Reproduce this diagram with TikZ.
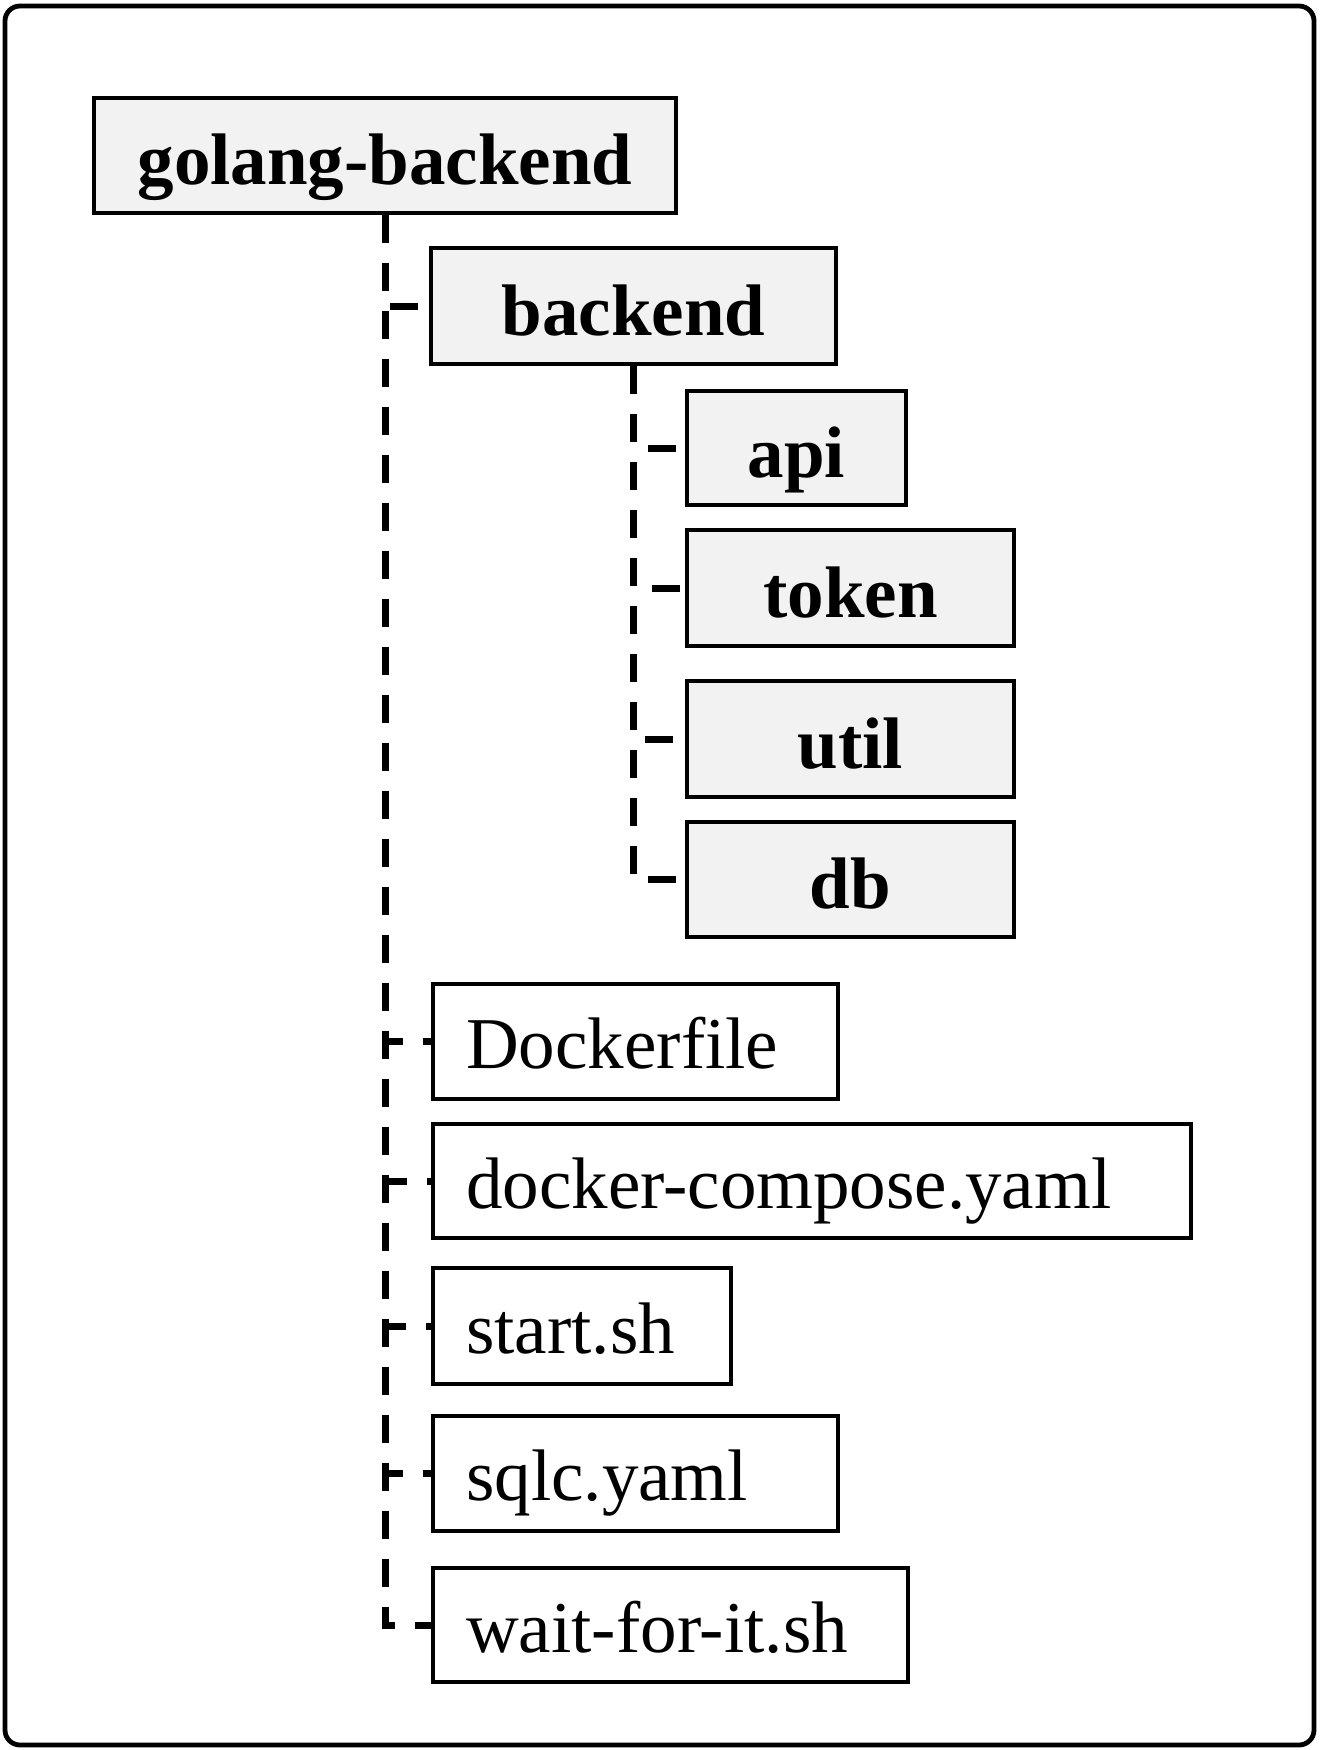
\documentclass[tikz,border=0pt]{standalone}
\usepackage{fontspec}
\setmainfont{Liberation Serif}
\definecolor{boxfill}{HTML}{F2F2F2}
\begin{document}
\begin{tikzpicture}[x=0.5pt,y=-0.5pt,
  dirbox/.style={draw=black, line width=2.2pt, fill=boxfill, inner sep=0pt,
    text height=29.2pt, text depth=0pt,
    font=\fontsize{36.5}{40}\selectfont\bfseries},
  filebox/.style={draw=black, line width=2.2pt, fill=white, inner xsep=16.5pt, inner ysep=0pt,
    align=left, anchor=north west, minimum height=57.5pt,
    text height=27pt, text depth=0pt,
    font=\fontsize{36.5}{40}\selectfont},
  conn/.style={draw=black, line width=3.5pt, dash pattern=on 14pt off 10pt},
  frame/.style={draw=black, line width=2.4pt, rounded corners=7.5pt}]
\useasboundingbox (0,0) rectangle (1320,1750);
\draw[frame] (5,6) rectangle (1314,1745);
% directories
\node[dirbox, minimum width=291pt, minimum height=57.5pt] (golang) at (385,155.5) {golang-backend};
\node[dirbox, minimum width=202.5pt, minimum height=58pt] (backend) at (633.5,306) {backend};
\node[dirbox, minimum width=109.5pt, minimum height=57pt] (api) at (796.5,448) {api};
\node[dirbox, minimum width=163.5pt, minimum height=58pt] (token) at (850.5,588) {token};
\node[dirbox, minimum width=163.5pt, minimum height=58pt] (util) at (850.5,739) {util};
\node[dirbox, minimum width=163.5pt, minimum height=57.5pt] (db) at (850.5,879.5) {db};
% files
\node[filebox, text width=169.5pt] (dockerfile) at (431,982) {Dockerfile};
\node[filebox, text width=346pt, minimum height=57pt] (compose) at (431,1122) {docker-compose.yaml};
\node[filebox, text width=116pt, minimum height=58pt] (start) at (431,1266) {start.sh};
\node[filebox, text width=169.5pt] (sqlc) at (431,1414) {sqlc.yaml};
\node[filebox, text width=204.5pt, minimum height=57pt] (wait) at (431,1566) {wait-for-it.sh};
% connectors
\foreach \c in {wait,sqlc,start,compose,dockerfile,backend}
  \draw[conn] (golang.south) |- (\c.west);
\foreach \c in {db,util,token,api}
  \draw[conn] (backend.south) |- (\c.west);
\end{tikzpicture}
\end{document}
